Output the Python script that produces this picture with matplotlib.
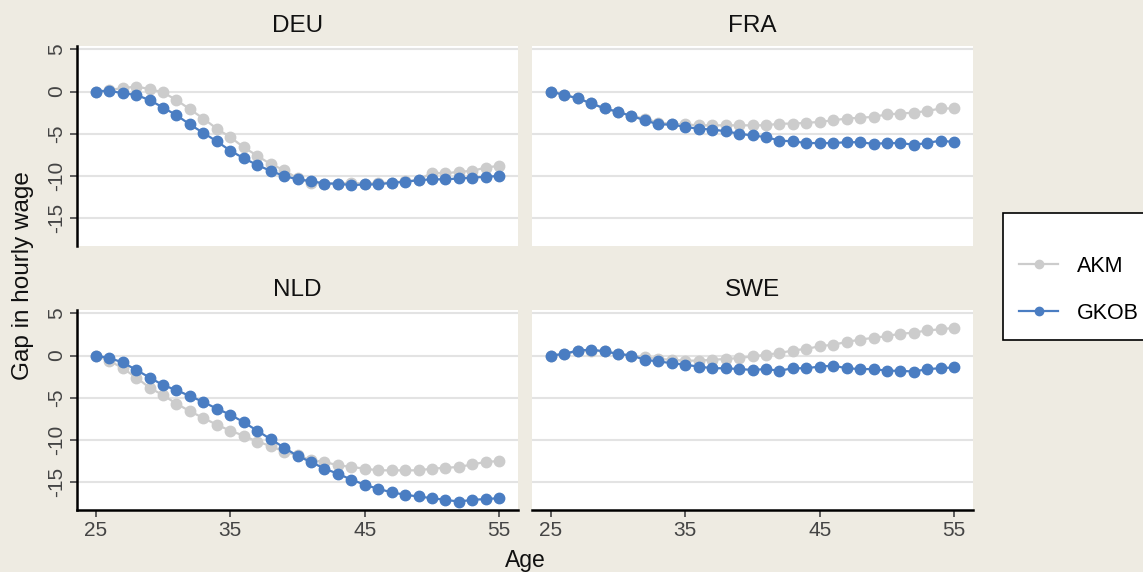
import matplotlib
matplotlib.use("Agg")
import matplotlib.pyplot as plt
from matplotlib.lines import Line2D

plt.rcParams['font.family'] = ['Liberation Sans', 'DejaVu Sans']

ages = list(range(25, 56))

deu_akm = [0, 0.2, 0.4, 0.6, 0.3, -0.1, -1.0, -2.1, -3.2, -4.4, -5.4, -6.6, -7.6, -8.6, -9.3,
           -10.3, -10.8, -10.9, -10.9, -10.8, -10.9, -10.8, -10.8, -10.6, -10.5, -9.6, -9.7,
           -9.5, -9.4, -9.0, -8.8]
deu_gkob = [0, 0.1, -0.2, -0.4, -1.0, -1.9, -2.8, -3.9, -4.9, -5.9, -7.0, -7.9, -8.7, -9.4,
            -10.0, -10.4, -10.6, -10.9, -10.9, -11.1, -11.0, -11.0, -10.8, -10.7, -10.5, -10.4,
            -10.4, -10.3, -10.2, -10.1, -10.0]

fra_akm = [0, -0.4, -0.8, -1.4, -2.0, -2.4, -2.9, -3.2, -3.7, -3.8, -3.9, -4.0, -4.0, -4.0,
           -4.0, -4.0, -4.0, -3.8, -3.8, -3.7, -3.6, -3.4, -3.2, -3.1, -3.0, -2.7, -2.6, -2.5,
           -2.3, -2.0, -2.0]
fra_gkob = [0, -0.4, -0.8, -1.4, -2.0, -2.4, -2.9, -3.4, -3.9, -3.9, -4.2, -4.4, -4.5, -4.7,
            -5.0, -5.2, -5.4, -5.8, -5.9, -6.1, -6.1, -6.1, -6.0, -6.0, -6.2, -6.1, -6.1, -6.3,
            -6.1, -5.8, -6.0]

nld_akm = [0, -0.6, -1.5, -2.6, -3.8, -4.7, -5.7, -6.6, -7.4, -8.2, -8.9, -9.5, -10.2, -10.7,
           -11.4, -11.8, -12.4, -12.6, -13.0, -13.2, -13.4, -13.6, -13.6, -13.6, -13.6, -13.4,
           -13.3, -13.2, -12.9, -12.6, -12.5]
nld_gkob = [0, -0.3, -0.8, -1.7, -2.6, -3.5, -4.1, -4.8, -5.5, -6.3, -7.0, -7.9, -8.9, -9.9,
            -10.9, -11.9, -12.6, -13.4, -14.0, -14.7, -15.3, -15.8, -16.2, -16.5, -16.7, -16.9,
            -17.1, -17.3, -17.1, -17.0, -16.9]

swe_akm = [0, 0.2, 0.5, 0.6, 0.5, 0.2, 0, -0.2, -0.4, -0.5, -0.6, -0.6, -0.5, -0.4, -0.3,
           -0.1, 0.1, 0.3, 0.6, 0.8, 1.1, 1.3, 1.6, 1.9, 2.1, 2.3, 2.6, 2.7, 3.0, 3.1, 3.3]
swe_gkob = [0, 0.2, 0.6, 0.7, 0.5, 0.2, 0, -0.5, -0.7, -0.9, -1.1, -1.3, -1.5, -1.5, -1.6,
            -1.7, -1.6, -1.8, -1.5, -1.5, -1.3, -1.2, -1.5, -1.6, -1.6, -1.8, -1.8, -1.9, -1.6,
            -1.5, -1.4]

countries = ["DEU", "FRA", "NLD", "SWE"]
series_akm = [deu_akm, fra_akm, nld_akm, swe_akm]
series_gkob = [deu_gkob, fra_gkob, nld_gkob, swe_gkob]
series_names = ["AKM", "GKOB"]

y_ticks = [5, 0, -5, -10, -15]
x_ticks = [25, 35, 45, 55]

BG = "#EEEBE2"
GRAY = "#CCCCCC"
BLUE = "#4A7DC2"
GRID = "#E3E3E3"

W, H = 1143, 572
fig = plt.figure(figsize=(W / 100, H / 100), dpi=100, facecolor=BG)

lefts = [77, 532]
tops = [46, 310]
pw, ph = 441, 200

for i, (name, akm, gkob) in enumerate(zip(countries, series_akm, series_gkob)):
    r, c = divmod(i, 2)
    x0 = lefts[c]
    y0 = tops[r]
    ax = fig.add_axes([x0 / W, 1 - (y0 + ph) / H, pw / W, ph / H])
    ax.set_facecolor("white")
    ax.set_xlim(23.6, 56.4)
    ax.set_ylim(-18.3, 5.4)
    ax.set_yticks(y_ticks)
    ax.set_xticks(x_ticks)
    ax.grid(axis="y", color=GRID, linewidth=1.5, zorder=0)
    ax.set_axisbelow(True)
    for s in ax.spines.values():
        s.set_visible(False)
    ax.plot(ages, akm, color=GRAY, marker="o", markersize=7.5, linewidth=1.6, zorder=3,
            clip_on=False)
    ax.plot(ages, gkob, color=BLUE, marker="o", markersize=7.5, linewidth=1.6, zorder=4,
            clip_on=False)
    ax.set_title(name, fontsize=17.5, color="#111111", pad=10)
    ax.tick_params(colors="#444444", labelsize=15, length=5, width=1.2, pad=3)
    if c == 0:
        ax.spines["left"].set_visible(True)
        ax.spines["left"].set_linewidth(1.8)
        ax.spines["left"].set_color("black")
        ax.set_yticklabels([str(v) for v in y_ticks], rotation=90, va="center")
    else:
        ax.tick_params(axis="y", left=False, labelleft=False)
    if r == 1:
        ax.spines["bottom"].set_visible(True)
        ax.spines["bottom"].set_linewidth(1.8)
        ax.spines["bottom"].set_color("black")
    else:
        ax.tick_params(axis="x", bottom=False, labelbottom=False)

fig.text(23 / W, 1 - 276 / H, "Gap in hourly wage", rotation=90, ha="center", va="center",
         fontsize=17.5, color="#111111")
fig.text(525 / W, 1 - 561 / H, "Age", ha="center", va="center", fontsize=16.5,
         color="#111111")

handles = [
    Line2D([], [], color=GRAY, marker="o", markersize=6, linewidth=1.6),
    Line2D([], [], color=BLUE, marker="o", markersize=6, linewidth=1.6),
]
leg = fig.legend(handles, series_names, loc="upper left",
                 bbox_to_anchor=(1003 / W, 1 - 213 / H), borderaxespad=0,
                 fontsize=15.5, frameon=True, fancybox=False, edgecolor="black",
                 facecolor="white", framealpha=1, borderpad=0.75, labelspacing=1.2,
                 handlelength=1.8, handletextpad=0.9, title=" ", title_fontsize=1)
leg.get_frame().set_linewidth(1.2)

fig.savefig("out.png", dpi=100, facecolor=BG)
